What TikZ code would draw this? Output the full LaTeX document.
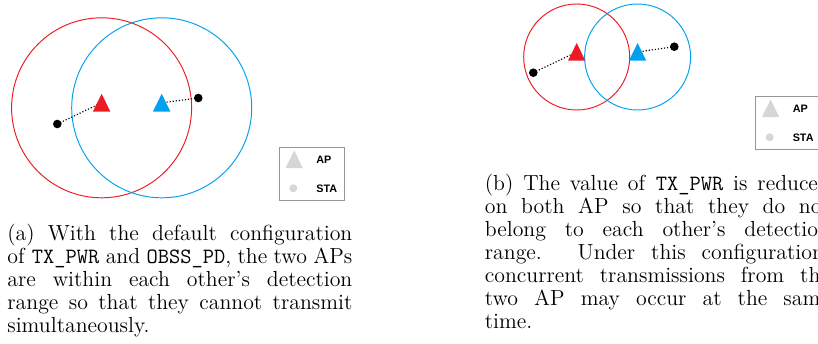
\documentclass[tikz,border=0pt]{standalone}
\usepackage{fontspec}
\newfontfamily\legendfont{Liberation Sans}
\usepackage{tikz}
\usetikzlibrary{calc}
\definecolor{APRed}{RGB}{237,28,36}
\definecolor{APBlue}{RGB}{0,162,240}
\definecolor{LegendGray}{RGB}{214,214,214}
\definecolor{BoxGray}{RGB}{150,150,150}
\tikzset{
	apcircle/.style={line width=0.5pt},
	link/.style={densely dotted, line width=0.6pt},
	captext/.style={anchor=base west, inner sep=0pt, text width=178.7pt, align=justify, font=\fontsize{11.3}{12}\selectfont},
	legtext/.style={anchor=west, inner sep=0pt, font=\legendfont\bfseries\fontsize{5.6}{6}\selectfont}
}

\begin{document}
\begin{tikzpicture}[x=0.518pt, y=-0.518pt]
		\useasboundingbox (0,0) rectangle (818,344);
		\clip (0,0) rectangle (818,344);
		% (a) default configuration
		\coordinate (apA) at (101.6,107.8);
		\coordinate (apB) at (161.7,107.8);
		\coordinate (staA) at (57.3,124);
		\coordinate (staB) at (198.3,98);
		\draw[apcircle, APRed] (apA) circle (90);
		\draw[apcircle, APBlue] (apB) circle (90);
		\draw[link] (staA) -- ($(apA)+(0,-5)$);
		\draw[link] (staB) -- ($(apB)+(0,-5)$);
		\fill[APRed] (apA) ++(0,-14) -- ++(8.7,17.7) -- ++(-17.4,0) -- cycle;
		\fill[APBlue] (apB) ++(0,-14) -- ++(8.7,17.7) -- ++(-17.4,0) -- cycle;
		\fill (staA) circle (4.3);
		\fill (staB) circle (4.3);
		% legend (a)
		\coordinate (legApA) at (294.2,164.5);
		\coordinate (legStaA) at (293.3,188.3);
		\draw[BoxGray, line width=0.5pt] (279.3,147.7) rectangle (344.3,200.7);
		\fill[LegendGray] (legApA) ++(0,-14) -- ++(8.7,17.7) -- ++(-17.4,0) -- cycle;
		\fill[LegendGray] (legStaA) circle (4);
		\node[legtext] (apTextA) at (316,159.3) {AP};
		\node[legtext] (staTextA) at (316,188.3) {STA};
		\node[captext] (capA) at (7,240) {(a) With the default configuration\linebreak
			of \texttt{TX\_PWR} and \texttt{OBSS\_PD}, the two APs\linebreak
			are within each other's detection\linebreak
			range so that they cannot transmit\linebreak
			simultaneously.};
		% (b) reduced TX_PWR
		\coordinate (apC) at (576.7,57);
		\coordinate (apD) at (637.6,57);
		\coordinate (staC) at (533.3,72.7);
		\coordinate (staD) at (674.3,46.7);
		\draw[apcircle, APRed] (apC) circle (53);
		\draw[apcircle, APBlue] (apD) circle (53);
		\draw[link] (staC) -- ($(apC)+(0,-5)$);
		\draw[link] (staD) -- ($(apD)+(0,-5)$);
		\fill[APRed] (apC) ++(0,-14) -- ++(8.7,17.7) -- ++(-17.4,0) -- cycle;
		\fill[APBlue] (apD) ++(0,-14) -- ++(8.7,17.7) -- ++(-17.4,0) -- cycle;
		\fill (staC) circle (4.3);
		\fill (staD) circle (4.3);
		% legend (b)
		\coordinate (legApB) at (770.6,113.5);
		\coordinate (legStaB) at (769.7,137.3);
		\draw[BoxGray, line width=0.5pt] (755.7,96.7) rectangle (820.7,149.7);
		\fill[LegendGray] (legApB) ++(0,-14) -- ++(8.7,17.7) -- ++(-17.4,0) -- cycle;
		\fill[LegendGray] (legStaB) circle (4);
		\node[legtext] (apTextB) at (792.4,108.3) {AP};
		\node[legtext] (staTextB) at (792.4,137.3) {STA};
		\node[captext] (capB) at (484.5,190) {(b) The value of \texttt{TX\_PWR} is reduced\linebreak
			on both AP so that they do not\linebreak
			belong to each other's detection\linebreak
			range. Under this configuration,\linebreak
			concurrent transmissions from the\linebreak
			two AP may occur at the same\linebreak
			time.};
	\end{tikzpicture}
\end{document}
